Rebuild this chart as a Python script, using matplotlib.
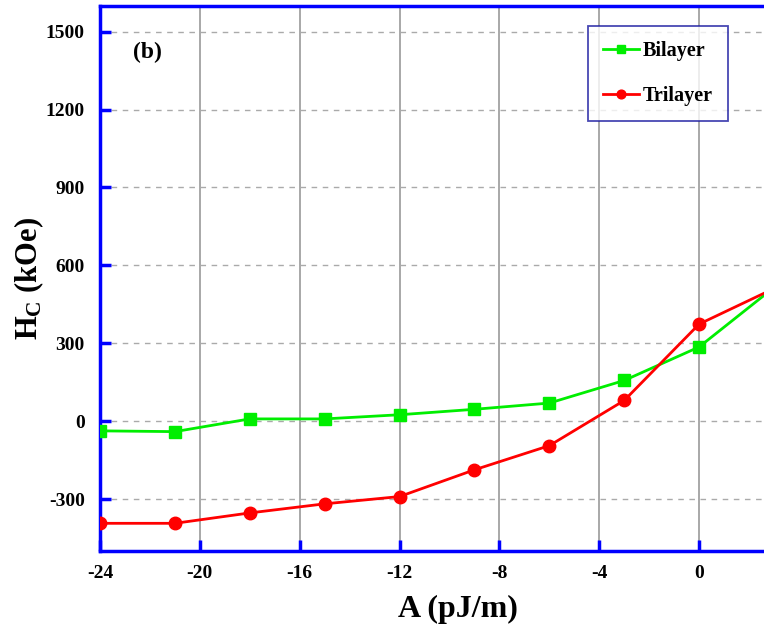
import numpy as np
import matplotlib.pyplot as plt

plt.rcParams['font.family'] = 'Liberation Serif'
plt.rcParams['font.weight'] = 'bold'
plt.rcParams['axes.unicode_minus'] = False
plt.rcParams['mathtext.fontset'] = 'custom'
plt.rcParams['mathtext.rm'] = 'Liberation Serif:bold'
plt.rcParams['mathtext.bf'] = 'Liberation Serif:bold'

# data
A = [-24, -21, -18, -15, -12, -9, -6, -3, 0, 3]
bilayer = [-37, -40, 9, 9, 25, 46, 70, 157, 286, 515]
trilayer = [-393, -393, -353, -318, -290, -187, -94, 80, 374, 511]

xticks = [-24, -20, -16, -12, -8, -4, 0]
yticks = [-300, 0, 300, 600, 900, 1200, 1500]

fig = plt.figure(figsize=(7.64, 6.32), dpi=100)
ax = fig.add_axes([0.1309, 0.128, 0.8691, 0.863])

ax.plot(A, bilayer, color='#00ee00', lw=2, marker='s', ms=9, label='Bilayer', zorder=3)
ax.plot(A, trilayer, color='#ff0000', lw=2, marker='o', ms=9, label='Trilayer', zorder=3)

ax.set_xlim(-24, 2.6)
ax.set_ylim(-500, 1600)
ax.set_xticks(xticks)
ax.set_yticks(yticks)

# grid
for x in xticks[1:]:
    ax.axvline(x, color='#999999', lw=1.2, zorder=1)
for y in yticks:
    ax.axhline(y, color='#aaaaaa', lw=1, ls=(0, (4, 4)), zorder=1)

for s in ['left', 'bottom', 'top']:
    ax.spines[s].set_color('#0000ff')
    ax.spines[s].set_linewidth(2.5)
ax.spines['right'].set_visible(False)
ax.tick_params(direction='in', length=8, width=2.5, color='#0000ff',
               labelsize=14, pad=10)
ax.tick_params(axis='y', pad=11)
for lab in ax.get_xticklabels() + ax.get_yticklabels():
    lab.set_fontweight('bold')

ax.set_xlabel('A (pJ/m)', fontsize=23, fontweight='bold')
ax.xaxis.set_label_coords(0.539, -0.08)
ax.set_ylabel(r'$\mathregular{H_C}$ (kOe)', fontsize=22, fontweight='bold')
ax.yaxis.set_label_coords(-0.082, 0.5)

ax.text(0.072, 0.915, '(b)', transform=ax.transAxes, fontsize=17,
        fontweight='bold', ha='center', va='center')

leg = ax.legend(loc='upper right', bbox_to_anchor=(0.946, 0.963), fontsize=14.5,
                frameon=True, fancybox=False, edgecolor='#1a1aa0',
                handlelength=1.8, handletextpad=0.2, labelspacing=1.25,
                borderpad=0.75, borderaxespad=0, markerscale=0.7)
leg.get_frame().set_linewidth(1.3)
for t in leg.get_texts():
    t.set_fontweight('bold')

fig.savefig('out.png', dpi=100)
